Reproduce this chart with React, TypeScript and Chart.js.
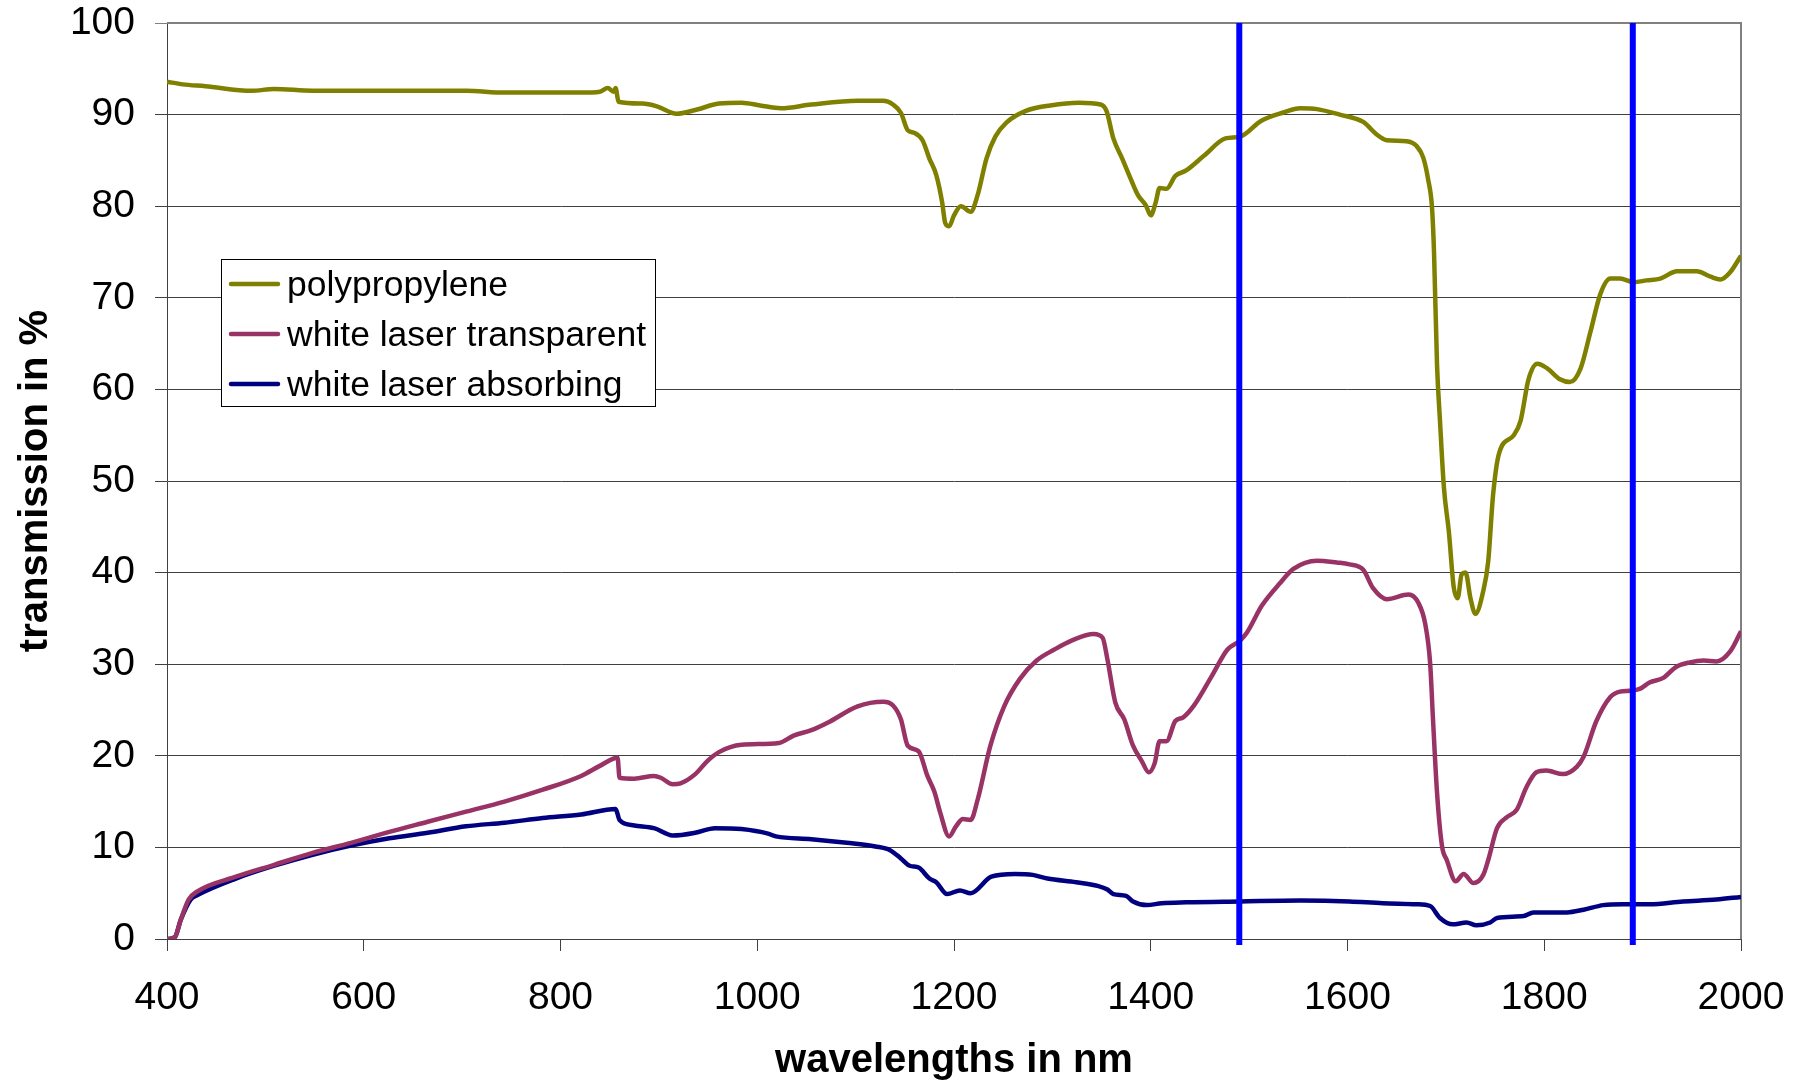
import React, { useEffect, useRef } from "react";
import { Chart, registerables } from "chart.js";

Chart.register(...registerables);

// ---------- data ----------
const ppWavelengths = [
  400, 416, 439, 486, 509, 548, 626, 704, 743, 782, 821, 840, 848, 854, 856, 859, 883, 898, 918, 937,
  961, 984, 1003, 1024, 1055, 1102, 1128, 1138, 1146, 1153, 1160, 1168, 1175, 1182, 1188, 1191, 1195, 1200,
  1207, 1217, 1224, 1233, 1242, 1253, 1273, 1298, 1327, 1349, 1355, 1362, 1371, 1378, 1387, 1395, 1400,
  1405, 1409, 1416, 1425, 1436, 1454, 1476, 1491, 1512, 1534, 1552, 1569, 1592, 1616, 1630, 1640, 1660,
  1670, 1677, 1682, 1686, 1688, 1691, 1694, 1698, 1703, 1708, 1712, 1716, 1720, 1725, 1730, 1738, 1743,
  1748, 1754, 1769, 1776, 1784, 1793, 1803, 1816, 1826, 1837, 1847, 1857, 1867, 1877, 1891, 1904, 1918,
  1935, 1955, 1969, 1979, 1989, 2000,
];
const ppTransmission = [
  93.6, 93.3, 93.1, 92.6, 92.8, 92.6, 92.6, 92.6, 92.4, 92.4, 92.4, 92.5, 92.9, 92.5, 92.9, 91.4, 91.2, 90.9, 90.1, 90.5,
  91.2, 91.3, 91.0, 90.7, 91.1, 91.5, 91.5, 91.1, 90.2, 88.3, 88.0, 87.2, 85.2, 83.4, 80.4, 78.2, 77.8, 79.0,
  80.0, 79.4, 81.2, 85.2, 87.6, 89.1, 90.4, 91.0, 91.3, 91.1, 90.4, 87.4, 85.2, 83.4, 81.2, 80.1, 79.0,
  80.4, 82.0, 81.9, 83.3, 83.9, 85.5, 87.4, 87.6, 89.3, 90.2, 90.7, 90.6, 90.0, 89.2, 87.8, 87.2, 87.1,
  86.6, 85.3, 82.9, 79.7, 74.8, 62.7, 56.6, 49.3, 44.5, 38.4, 37.2, 39.8, 40.0, 37.2, 35.5, 38.0, 41.2,
  48.5, 53.0, 55.0, 56.6, 61.1, 62.8, 62.3, 61.1, 60.8, 62.3, 66.3, 70.4, 72.1, 72.1, 71.7, 71.9, 72.1,
  72.9, 72.9, 72.3, 72.0, 72.8, 74.6,
];

const wltWavelengths = [
  400, 408, 414, 422, 431, 470, 509, 548, 587, 626, 665, 704, 743, 782, 821, 840, 858, 860, 875, 895,
  902, 914, 922, 937, 949, 961, 984, 1022, 1037, 1055, 1073, 1102, 1128, 1138, 1146, 1153, 1164, 1173,
  1180, 1186, 1195, 1202, 1209, 1217, 1224, 1237, 1251, 1267, 1284, 1302, 1320, 1342, 1351, 1356, 1364,
  1373, 1382, 1391, 1398, 1404, 1409, 1416, 1425, 1433, 1444, 1462, 1478, 1491, 1498, 1513, 1531, 1545,
  1569, 1589, 1602, 1616, 1626, 1640, 1662, 1672, 1679, 1684, 1687, 1691, 1696, 1701, 1710, 1718, 1728,
  1738, 1743, 1752, 1762, 1772, 1782, 1792, 1802, 1819, 1833, 1840, 1853, 1867, 1877, 1887, 1897, 1907,
  1921, 1934, 1948, 1962, 1975, 1989, 2000,
];
const wltTransmission = [
  0, 0.2, 2.1, 4.3, 5.2, 6.8, 8.1, 9.4, 10.5, 11.7, 12.8, 13.9, 15.0, 16.3, 17.8, 18.9, 19.8, 17.6, 17.5, 17.8,
  17.6, 16.9, 17.0, 18.0, 19.4, 20.4, 21.2, 21.4, 22.2, 22.8, 23.7, 25.4, 25.9, 25.5, 24.0, 21.1, 20.5, 17.8,
  16.1, 13.8, 11.2, 12.3, 13.1, 13.0, 15.2, 21.1, 25.4, 28.4, 30.4, 31.6, 32.6, 33.3, 32.9, 30.5, 25.8,
  24.0, 21.1, 19.4, 18.2, 19.2, 21.6, 21.6, 23.8, 24.2, 25.5, 28.7, 31.6, 32.6, 33.5, 36.4, 38.8, 40.4,
  41.3, 41.1, 40.9, 40.3, 38.3, 37.1, 37.6, 36.7, 34.4, 30.1, 23.8, 16.0, 10.2, 8.6, 6.3, 7.1, 6.1,
  7.0, 8.6, 12.1, 13.3, 14.1, 16.6, 18.2, 18.4, 18.0, 18.8, 19.9, 23.8, 26.4, 27.0, 27.1, 27.3, 28.0,
  28.5, 29.7, 30.2, 30.4, 30.3, 31.4, 33.6,
];

const wlaWavelengths = [
  400, 408, 414, 424, 431, 470, 509, 548, 587, 626, 665, 704, 743, 782, 821, 856, 860, 875, 895, 914,
  937, 957, 984, 1011, 1019, 1055, 1091, 1120, 1135, 1146, 1155, 1164, 1175, 1182, 1193, 1206, 1217, 1238,
  1262, 1280, 1295, 1324, 1346, 1356, 1362, 1375, 1382, 1396, 1411, 1436, 1491, 1552, 1602, 1636, 1670,
  1684, 1694, 1707, 1721, 1731, 1745, 1752, 1779, 1789, 1823, 1840, 1860, 1880, 1907, 1941, 1975, 2000,
];
const wlaTransmission = [
  0, 0.2, 2.1, 4.3, 4.8, 6.6, 8.0, 9.2, 10.2, 11.0, 11.6, 12.3, 12.7, 13.2, 13.6, 14.2, 13.0, 12.4, 12.1, 11.3,
  11.6, 12.1, 12.0, 11.5, 11.2, 10.9, 10.5, 10.1, 9.7, 8.8, 8.0, 7.8, 6.6, 6.2, 4.9, 5.3, 5.0, 6.8,
  7.1, 7.0, 6.6, 6.2, 5.8, 5.4, 4.9, 4.7, 4.1, 3.7, 3.9, 4.0, 4.1, 4.2, 4.1, 3.9, 3.8,
  3.6, 2.3, 1.6, 1.8, 1.5, 1.8, 2.3, 2.5, 2.9, 2.9, 3.2, 3.7, 3.8, 3.8, 4.1, 4.3, 4.6,
];

const seriesLabels = ["polypropylene", "white laser transparent", "white laser absorbing"];
const markerWavelengths = [1490, 1890];
const xTickStep = 200;
const yTickStep = 10;

// ---------- styling ----------
const FONT = '"Liberation Sans", Arial, Helvetica, sans-serif';
const seriesColors = ["#808000", "#993366", "#000080"];
const markerColor = "#0000FF";

const toPoints = (xs: number[], ys: number[]) => xs.map((x, i) => ({ x, y: ys[i] }));

const boxLegendPlugin = {
  id: "boxLegend",
  afterDraw(chart: any) {
    const { ctx, chartArea } = chart;
    const x0 = Math.round(chartArea.left + 54);
    const y0 = Math.round(chartArea.top + 236);
    const w = 434;
    const h = 147;
    ctx.save();
    ctx.fillStyle = "#ffffff";
    ctx.fillRect(x0, y0, w, h);
    ctx.strokeStyle = "#000000";
    ctx.lineWidth = 1;
    ctx.strokeRect(x0 + 0.5, y0 + 0.5, w, h);
    const items = chart.data.datasets.filter((d: any) => d.inLegend);
    items.forEach((d: any, i: number) => {
      const cy = y0 + 25 + i * 50;
      ctx.strokeStyle = d.borderColor;
      ctx.lineWidth = 4.5;
      ctx.lineCap = "round";
      ctx.beginPath();
      ctx.moveTo(x0 + 10, cy);
      ctx.lineTo(x0 + 57, cy);
      ctx.stroke();
      ctx.fillStyle = "#000";
      ctx.font = `35.5px ${FONT}`;
      ctx.textBaseline = "middle";
      ctx.textAlign = "left";
      ctx.fillText(d.label, x0 + 66, cy + 2);
    });
    ctx.restore();
  },
};

const framePlugin = {
  id: "plotFrame",
  beforeDatasetsDraw(chart: any) {
    const { ctx, chartArea } = chart;
    ctx.save();
    ctx.strokeStyle = "#808080";
    ctx.lineWidth = 2;
    ctx.beginPath();
    ctx.moveTo(chartArea.left, chartArea.top);
    ctx.lineTo(chartArea.right, chartArea.top);
    ctx.lineTo(chartArea.right, chartArea.bottom);
    ctx.stroke();
    ctx.restore();
  },
};

export default function App() {
  const canvasRef = useRef<HTMLCanvasElement | null>(null);

  useEffect(() => {
    if (!canvasRef.current) return;
    const seriesData = [
      toPoints(ppWavelengths, ppTransmission),
      toPoints(wltWavelengths, wltTransmission),
      toPoints(wlaWavelengths, wlaTransmission),
    ];
    const datasets: any[] = seriesData.map((data, i) => ({
      label: seriesLabels[i],
      data,
      borderColor: seriesColors[i],
      backgroundColor: seriesColors[i],
      borderWidth: 4.5,
      pointRadius: 0,
      cubicInterpolationMode: "monotone",
      fill: false,
      inLegend: true,
    }));
    markerWavelengths.forEach((w) => {
      datasets.push({
        label: `marker ${w}`,
        data: [
          { x: w, y: 100 },
          { x: w, y: -0.65 },
        ],
        borderColor: markerColor,
        borderWidth: 6,
        pointRadius: 0,
        fill: false,
        clip: false,
        order: -1,
        inLegend: false,
      });
    });

    const chart = new Chart(canvasRef.current, {
      type: "line",
      data: { datasets },
      plugins: [framePlugin, boxLegendPlugin],
      options: {
        animation: false,
        responsive: false,
        events: [],
        layout: { padding: { left: 0, top: 23, right: 57, bottom: 0 } },
        plugins: { legend: { display: false }, tooltip: { enabled: false } },
        scales: {
          x: {
            type: "linear",
            min: 400,
            max: 2000,
            ticks: {
              stepSize: xTickStep,
              color: "#000",
              font: { family: FONT, size: 39 },
              padding: 24,
              maxRotation: 0,
              autoSkip: false,
              callback: (v: any) => String(v),
            },
            grid: { drawOnChartArea: false, drawTicks: true, tickLength: 12, color: "#404040", lineWidth: 1 },
            border: { display: true, color: "#404040", width: 1 },
            title: {
              display: true,
              text: "wavelengths in nm",
              color: "#000",
              font: { family: FONT, size: 40, weight: "bold", lineHeight: 1 },
              padding: { top: 0, bottom: 2 },
            },
            afterFit: (s: any) => {
              s.height = 144;
              s.paddingLeft = 0;
              s.paddingRight = 0;
            },
          },
          y: {
            type: "linear",
            min: 0,
            max: 100,
            ticks: {
              stepSize: yTickStep,
              color: "#000",
              font: { family: FONT, size: 39 },
              padding: 20,
              callback: (v: any) => String(v),
            },
            grid: {
              color: (c: any) => (c.tick && c.tick.value === 100 ? "#808080" : "#404040"),
              lineWidth: 1,
              tickLength: 12,
            },
            border: { display: true, color: "#404040", width: 1 },
            title: {
              display: true,
              text: "transmission in %",
              color: "#000",
              font: { family: FONT, size: 40, weight: "bold", lineHeight: 1 },
              padding: { top: 16, bottom: 0 },
            },
            afterFit: (s: any) => {
              s.width = 167;
              s.paddingTop = 0;
              s.paddingBottom = 0;
            },
          },
        },
      } as any,
    });
    return () => chart.destroy();
  }, []);

  return (
    <div style={{ position: "fixed", left: 0, top: 0, width: 1798, height: 1083, background: "#fff" }}>
      <canvas ref={canvasRef} width={1798} height={1083} style={{ display: "block" }} />
    </div>
  );
}
